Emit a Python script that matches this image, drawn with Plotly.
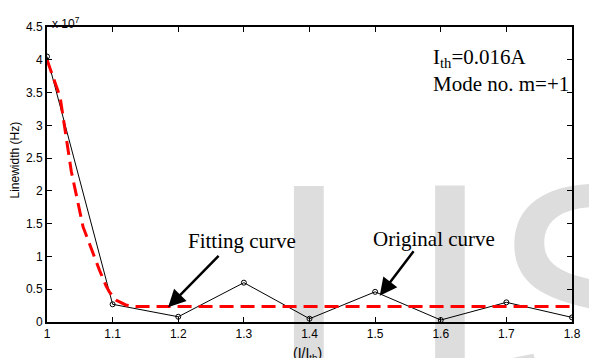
import plotly.graph_objects as go

# Original curve (I/I_th vs linewidth, Hz)
ratio = [1.0, 1.1, 1.2, 1.3, 1.4, 1.5, 1.6, 1.7, 1.8]
linewidth = [4.05e7, 0.27e7, 0.08e7, 0.60e7, 0.05e7, 0.46e7, 0.03e7, 0.30e7, 0.07e7]

# Fitting curve
fit_ratio = [1.0, 1.02, 1.037, 1.055, 1.08, 1.09, 1.095, 1.105, 1.12, 1.135, 1.8]
fit_linewidth = [4.0e7, 3.43e7, 2.3e7, 1.45e7, 0.79e7, 0.55e7, 0.46e7, 0.335e7, 0.26e7, 0.235e7, 0.235e7]

x_ticks = [1.0, 1.1, 1.2, 1.3, 1.4, 1.5, 1.6, 1.7, 1.8]
x_ticklabels = ["1", "1.1", "1.2", "1.3", "1.4", "1.5", "1.6", "1.7", "1.8"]
y_ticks = [0, 0.5e7, 1e7, 1.5e7, 2e7, 2.5e7, 3e7, 3.5e7, 4e7, 4.5e7]
y_ticklabels = ["0", "0.5", "1", "1.5", "2", "2.5", "3", "3.5", "4", "4.5"]

# background watermark letters
wm_letters = ["I", "J", "S"]
wm_x = [1.399, 1.614, 1.673]
wm_y = [2.378e7, 2.18e7, 2.37e7]
wm_pos = ["bottom center", "bottom center", "bottom right"]
wm_fonts = ["Liberation Sans", "DejaVu Sans", "Liberation Sans"]
wm_sizes = [320, 300, 330]

SANS = "Liberation Sans, Arial, sans-serif"
SERIF = "Liberation Serif, Times New Roman, serif"

fig = go.Figure()

fig.add_trace(go.Scatter(
    x=wm_x, y=wm_y, mode="text", text=wm_letters,
    textfont=dict(family=wm_fonts, size=wm_sizes, color="#dddddd"),
    textposition=wm_pos, cliponaxis=False, hoverinfo="skip",
    showlegend=False))

fig.add_trace(go.Scatter(
    x=ratio, y=linewidth, mode="lines+markers",
    line=dict(color="black", width=1),
    marker=dict(symbol="circle-open", size=5, color="black", line=dict(width=1)),
    showlegend=False))

fig.add_trace(go.Scatter(
    x=fit_ratio, y=fit_linewidth, mode="lines",
    line=dict(color="#ff0000", width=3, dash="14px,7px"),
    showlegend=False))

fig.update_layout(
    width=589, height=358,
    margin=dict(l=47, r=8, t=27, b=36),
    paper_bgcolor="white", plot_bgcolor="rgba(0,0,0,0)",
    font=dict(family=SANS, size=11, color="black"),
    xaxis=dict(range=[1.0, 1.8], tickvals=x_ticks, ticktext=x_ticklabels,
               ticks="inside", ticklen=5, tickwidth=1, tickcolor="black",
               showline=True, linecolor="black", linewidth=2, mirror="ticks",
               showgrid=False, zeroline=False, tickfont=dict(size=12)),
    yaxis=dict(range=[0, 4.5e7], tickvals=y_ticks, ticktext=y_ticklabels,
               ticks="inside", ticklen=5, tickwidth=1, tickcolor="black",
               showline=True, linecolor="black", linewidth=2, mirror="ticks",
               showgrid=False, zeroline=False, tickfont=dict(size=12)),
)

annotations = [
    dict(text="x 10<sup>7</sup>", xref="paper", yref="paper", x=0, y=1,
         xanchor="left", yanchor="bottom", showarrow=False,
         font=dict(family=SANS, size=12), xshift=3, yshift=-6),
    dict(text="Linewidth (Hz)", xref="paper", yref="paper", x=-0.06, y=0.549,
         xanchor="center", yanchor="middle", textangle=-90, showarrow=False,
         font=dict(family=SANS, size=12)),
    dict(text="(I/I<sub>th</sub>)", xref="paper", yref="paper", x=0.496, y=0,
         xanchor="center", yanchor="top", showarrow=False,
         font=dict(family=SANS, size=14), yshift=-21),
    dict(text="I<sub>th</sub>=0.016A<br>Mode no. m=+1", xref="x", yref="y",
         x=1.585, y=4.25e7, xanchor="left", yanchor="top", align="left",
         showarrow=False, font=dict(family=SERIF, size=21)),
    dict(text="Fitting curve", xref="x", yref="y", x=1.297, y=1.235e7,
         xanchor="center", yanchor="middle", showarrow=False,
         font=dict(family=SERIF, size=21)),
    dict(text="Original curve", xref="x", yref="y", x=1.59, y=1.265e7,
         xanchor="center", yanchor="middle", showarrow=False,
         font=dict(family=SERIF, size=21)),
    dict(text="", xref="x", yref="y", x=1.1845, y=0.224e7, ax=52, ay=-53,
         showarrow=True, arrowhead=2, arrowsize=1.4, arrowwidth=2.5,
         arrowcolor="black"),
    dict(text="", xref="x", yref="y", x=1.507, y=0.40e7, ax=35, ay=-46,
         showarrow=True, arrowhead=2, arrowsize=1.4, arrowwidth=2.5,
         arrowcolor="black"),
]
fig.update_layout(annotations=annotations)

fig.write_html("out.html")
